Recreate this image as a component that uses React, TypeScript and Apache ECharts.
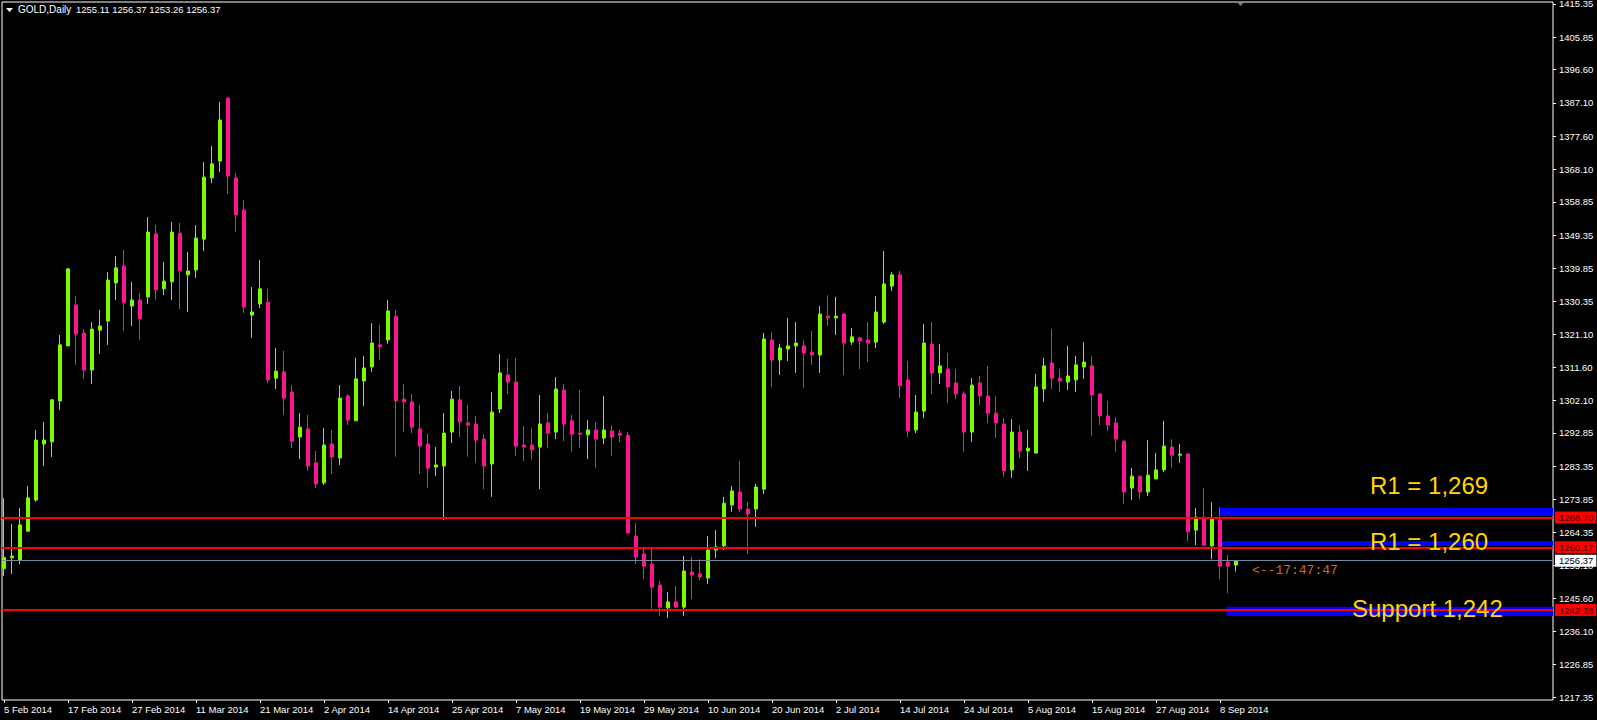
import React, { useEffect, useRef } from "react";
import * as echarts from "echarts";

// Date labels shown on the time axis (every 8th daily bar)
const tickLabels = [
  "5 Feb 2014", "17 Feb 2014", "27 Feb 2014", "11 Mar 2014", "21 Mar 2014",
  "2 Apr 2014", "14 Apr 2014", "25 Apr 2014", "7 May 2014", "19 May 2014",
  "29 May 2014", "10 Jun 2014", "20 Jun 2014", "2 Jul 2014", "14 Jul 2014",
  "24 Jul 2014", "5 Aug 2014", "15 Aug 2014", "27 Aug 2014", "8 Sep 2014",
];
const tickIndex = [0, 8, 16, 24, 32, 40, 48, 56, 64, 72, 80, 88, 96, 104, 112, 120, 128, 136, 144, 152];

// Price scale labels
const yTicks = [
  1415.35, 1405.85, 1396.6, 1387.1, 1377.6, 1368.1, 1358.85, 1349.35, 1339.85, 1330.35, 1321.1,
  1311.6, 1302.1, 1292.85, 1283.35, 1273.85, 1264.35, 1255.1, 1245.6, 1236.1, 1226.85, 1217.35,
];

// Daily OHLC, GOLD, 5 Feb 2014 .. 10 Sep 2014
const opens = [
  1254.1, 1257.2, 1256.5, 1264.8, 1273.7, 1289.7, 1290.3, 1302.0, 1317.7, 1329.4,
  1321.4, 1310.8, 1322.2, 1324.8, 1335.7, 1340.5, 1329.1, 1330.8, 1331.7, 1349.7,
  1334.0, 1336.0, 1349.9, 1338.0, 1339.4, 1348.2, 1365.7, 1370.5, 1388.5, 1365.7,
  1356.5, 1326.5, 1329.7, 1330.2, 1308.5, 1310.3, 1304.5, 1291.7, 1294.0, 1284.3,
  1278.6, 1289.7, 1285.7, 1303.4, 1296.3, 1307.7, 1311.7, 1318.0, 1319.4, 1326.2,
  1302.5, 1301.7, 1294.0, 1289.7, 1283.1, 1283.4, 1293.1, 1302.3, 1295.7, 1295.4,
  1291.1, 1284.0, 1299.7, 1309.4, 1307.4, 1289.4, 1289.4, 1288.8, 1295.7, 1293.1,
  1305.1, 1296.3, 1292.8, 1292.3, 1293.7, 1291.4, 1293.4, 1292.8, 1292.2, 1263.4,
  1258.3, 1255.4, 1249.4, 1242.9, 1244.6, 1243.1, 1253.1, 1252.6, 1251.4, 1259.4,
  1260.6, 1272.3, 1276.0, 1271.1, 1271.1, 1276.8, 1319.4, 1313.7, 1316.8, 1317.7,
  1317.7, 1315.9, 1315.1, 1326.2, 1325.7, 1326.8, 1318.8, 1320.0, 1319.4, 1318.8,
  1324.5, 1334.8, 1338.0, 1308.0, 1293.7, 1299.1, 1318.2, 1310.0, 1311.1, 1307.1,
  1304.0, 1293.1, 1307.1, 1303.4, 1298.5, 1295.4, 1282.3, 1293.1, 1287.7, 1287.1,
  1305.4, 1312.8, 1308.5, 1307.4, 1308.0, 1311.7, 1312.0, 1304.0, 1297.7, 1295.7,
  1290.5, 1277.1, 1280.5, 1276.0, 1279.7, 1282.3, 1288.8, 1286.5, 1286.8, 1265.1,
  1268.8, 1260.6, 1268.0, 1256.0, 1255.11,
];
const highs = [
  1274.2, 1266.8, 1271.4, 1277.7, 1293.7, 1296.0, 1302.5, 1320.8, 1340.0, 1332.0,
  1322.5, 1324.5, 1328.0, 1338.8, 1343.4, 1345.1, 1336.0, 1332.8, 1354.5, 1352.2,
  1341.7, 1353.1, 1352.8, 1344.5, 1352.2, 1370.2, 1374.8, 1387.4, 1388.5, 1367.1,
  1359.4, 1334.5, 1342.2, 1334.0, 1317.1, 1316.3, 1306.5, 1298.5, 1298.0, 1287.7,
  1294.3, 1293.7, 1306.5, 1304.0, 1314.3, 1314.8, 1324.2, 1323.7, 1330.8, 1328.0,
  1306.8, 1304.0, 1300.8, 1292.5, 1288.8, 1298.5, 1304.8, 1306.3, 1300.8, 1297.7,
  1292.5, 1304.5, 1315.4, 1314.0, 1314.3, 1294.8, 1294.3, 1303.7, 1298.5, 1308.8,
  1306.8, 1298.0, 1305.1, 1296.5, 1296.0, 1303.4, 1295.1, 1293.7, 1293.1, 1267.1,
  1260.0, 1260.0, 1250.6, 1247.4, 1249.1, 1257.7, 1257.4, 1256.8, 1263.4, 1265.1,
  1274.6, 1277.7, 1284.8, 1273.1, 1278.3, 1321.4, 1321.7, 1318.3, 1325.7, 1324.5,
  1319.4, 1322.0, 1329.1, 1332.2, 1331.7, 1327.1, 1322.8, 1320.3, 1324.5, 1332.0,
  1344.8, 1338.8, 1339.1, 1313.4, 1303.7, 1324.0, 1324.5, 1318.2, 1315.7, 1311.1,
  1304.8, 1308.5, 1309.1, 1312.0, 1303.4, 1297.1, 1296.8, 1295.1, 1293.7, 1309.7,
  1314.3, 1322.5, 1311.1, 1317.7, 1314.8, 1318.8, 1314.8, 1304.0, 1302.0, 1297.4,
  1290.8, 1282.8, 1280.5, 1290.8, 1287.1, 1296.3, 1291.1, 1289.7, 1287.1, 1271.4,
  1277.1, 1273.1, 1271.7, 1258.0, 1256.37,
];
const lows = [
  1252.0, 1252.6, 1255.4, 1264.6, 1273.2, 1283.4, 1286.0, 1299.4, 1317.7, 1312.3,
  1308.3, 1306.8, 1315.4, 1318.0, 1330.8, 1322.0, 1323.4, 1319.4, 1329.7, 1330.8,
  1332.2, 1330.8, 1328.2, 1327.4, 1337.1, 1344.8, 1364.2, 1367.4, 1361.1, 1350.2,
  1327.1, 1320.0, 1328.5, 1307.1, 1305.4, 1298.0, 1288.5, 1285.4, 1282.0, 1277.1,
  1278.0, 1281.1, 1283.7, 1295.1, 1296.3, 1300.5, 1310.3, 1313.7, 1318.3, 1286.0,
  1293.1, 1292.8, 1281.1, 1277.1, 1280.5, 1268.0, 1290.0, 1291.7, 1286.0, 1284.3,
  1276.8, 1274.6, 1298.5, 1304.0, 1286.3, 1284.8, 1285.1, 1276.8, 1288.5, 1291.1,
  1290.5, 1287.4, 1288.5, 1285.4, 1282.8, 1289.7, 1286.3, 1290.3, 1264.0, 1255.4,
  1251.1, 1242.6, 1240.6, 1240.0, 1242.8, 1240.6, 1245.4, 1250.8, 1249.7, 1257.1,
  1259.4, 1270.3, 1270.3, 1258.3, 1266.0, 1275.4, 1306.0, 1309.4, 1313.4, 1310.0,
  1305.7, 1312.3, 1310.0, 1323.4, 1320.8, 1309.4, 1318.0, 1311.1, 1313.1, 1317.1,
  1324.0, 1333.4, 1302.8, 1291.7, 1292.8, 1297.1, 1304.0, 1306.8, 1301.4, 1302.5,
  1287.4, 1290.3, 1300.8, 1295.7, 1291.4, 1280.3, 1280.0, 1285.7, 1282.0, 1287.1,
  1301.7, 1305.4, 1304.5, 1305.1, 1304.5, 1308.3, 1292.0, 1295.1, 1293.4, 1287.4,
  1272.6, 1273.7, 1274.0, 1274.8, 1279.7, 1281.7, 1282.8, 1284.3, 1262.0, 1260.8,
  1260.6, 1256.8, 1251.1, 1247.1, 1253.26,
];
const closes = [
  1257.3, 1257.7, 1266.6, 1274.3, 1290.8, 1290.8, 1302.3, 1318.0, 1339.7, 1321.1,
  1310.8, 1322.5, 1323.4, 1336.5, 1340.0, 1330.0, 1330.8, 1325.4, 1350.2, 1333.7,
  1336.2, 1350.2, 1339.1, 1339.1, 1348.5, 1365.9, 1369.7, 1382.2, 1366.2, 1355.1,
  1328.8, 1327.4, 1334.0, 1308.0, 1310.5, 1302.8, 1290.5, 1294.5, 1283.4, 1278.3,
  1289.4, 1286.0, 1302.8, 1296.5, 1308.3, 1311.4, 1318.5, 1317.4, 1327.7, 1302.0,
  1301.7, 1294.5, 1289.1, 1282.8, 1283.7, 1292.8, 1302.5, 1296.0, 1295.1, 1290.8,
  1283.4, 1298.8, 1310.0, 1307.4, 1289.1, 1288.8, 1288.0, 1295.4, 1292.8, 1305.4,
  1295.4, 1292.5, 1292.5, 1293.7, 1291.1, 1293.7, 1291.7, 1292.2, 1264.3, 1257.4,
  1254.8, 1248.8, 1243.1, 1244.6, 1243.1, 1253.4, 1252.3, 1251.7, 1259.4, 1260.3,
  1272.8, 1276.3, 1271.1, 1269.7, 1277.4, 1319.7, 1313.7, 1317.1, 1317.7, 1318.5,
  1315.7, 1315.1, 1326.8, 1325.7, 1326.2, 1318.5, 1320.3, 1319.1, 1318.5, 1327.4,
  1335.4, 1338.0, 1306.3, 1293.4, 1298.8, 1318.5, 1310.0, 1312.0, 1306.0, 1304.0,
  1293.1, 1306.5, 1303.4, 1298.5, 1295.7, 1282.0, 1293.1, 1287.7, 1288.5, 1306.0,
  1312.0, 1308.5, 1307.7, 1309.1, 1312.3, 1313.1, 1303.7, 1297.7, 1295.1, 1291.1,
  1276.0, 1280.5, 1276.0, 1280.8, 1282.3, 1289.1, 1286.5, 1286.8, 1264.6, 1268.8,
  1260.8, 1268.3, 1254.8, 1254.8, 1256.37,
];

// Horizontal levels (red) and the current bid line
const levelLines = [1268.7, 1260.17, 1242.28];
const bidLine = 1256.37;

// Blue rectangles: [start bar, upper price, lower price]
const zones = [
  [152, 1271.49, 1269.13],
  [152.2, 1261.99, 1260.56],
  [152.8, 1243.22, 1240.57],
];
const annotations = ["R1 = 1,269", "R1 = 1,260", "Support 1,242"];
const headerName = "GOLD,Daily";
const timerText = "<--17:47:47";

const X_MIN = -0.25;
const X_MAX = 193.625;
const Y_MIN = 1216.58;
const Y_MAX = 1415.92;

const BULL = "#7CFC00";
const BEAR = "#FF1493";
const FONT = "Tahoma, 'Liberation Sans', Arial, sans-serif";

export default function App() {
  const ref = useRef<HTMLDivElement>(null);

  useEffect(() => {
    if (!ref.current) return;
    const chart = echarts.init(ref.current, undefined, { renderer: "svg" });
    const last = opens.length - 1;
    const candles = opens.map((o, i) => [i, o, closes[i], lows[i], highs[i]]);
    const headerValues = [opens[last], highs[last], lows[last], closes[last]]
      .map((v) => v.toFixed(2))
      .join(" ");

    const lineItem = (v: number, color: string, width: number, bg: string, fg: string) => ({
      yAxis: v,
      lineStyle: { color, width, type: "solid" },
      label: {
        show: true,
        position: "end",
        distance: 2,
        formatter: v.toFixed(2),
        backgroundColor: bg,
        color: fg,
        fontFamily: FONT,
        fontSize: 9.5,
        lineHeight: 10,
        padding: [1, 3, 1, 4],
      },
    });

    chart.setOption({
      animation: false,
      backgroundColor: "#000000",
      grid: {
        left: 2,
        top: 2,
        width: 1551,
        height: 698,
        show: true,
        borderColor: "#ffffff",
        borderWidth: 1,
        backgroundColor: "transparent",
        containLabel: false,
        outerBoundsMode: "none",
      },
      xAxis: {
        type: "value",
        min: X_MIN,
        max: X_MAX,
        position: "bottom",
        axisLine: { show: false, onZero: false },
        splitLine: { show: false },
        axisTick: {
          show: true,
          customValues: tickIndex,
          length: 3,
          lineStyle: { color: "#ffffff", width: 1 },
        },
        axisLabel: {
          show: true,
          customValues: tickIndex,
          formatter: (v: number) => tickLabels[tickIndex.indexOf(Math.round(v))] ?? "",
          align: "left",
          margin: 4,
          color: "#ffffff",
          fontFamily: FONT,
          fontSize: 9.5,
          hideOverlap: false,
        },
      },
      yAxis: {
        type: "value",
        position: "right",
        min: Y_MIN,
        max: Y_MAX,
        scale: true,
        axisLine: { show: false, onZero: false },
        splitLine: { show: false },
        axisTick: {
          show: true,
          customValues: yTicks,
          length: 3,
          lineStyle: { color: "#ffffff", width: 1 },
        },
        axisLabel: {
          show: true,
          customValues: yTicks,
          formatter: (v: number) => v.toFixed(2),
          margin: 6,
          color: "#ffffff",
          fontFamily: FONT,
          fontSize: 9.5,
          hideOverlap: false,
        },
      },
      series: [
        {
          type: "candlestick",
          data: candles,
          barWidth: 4,
          itemStyle: {
            color: BULL,
            color0: BEAR,
            borderColor: BULL,
            borderColor0: BEAR,
            borderWidth: 1,
          },
          markArea: {
            silent: true,
            itemStyle: { color: "#0000FF", opacity: 1, borderWidth: 0 },
            data: zones.map((z) => [
              { xAxis: z[0], yAxis: z[1] },
              { xAxis: X_MAX, yAxis: z[2] },
            ]),
          },
          markLine: {
            silent: true,
            symbol: ["none", "none"],
            precision: 2,
            data: [
              ...levelLines.map((v) => lineItem(v, "#FF0000", 2, "#FF0000", "#3a0000")),
              lineItem(bidLine, "#778899", 1, "#FFFFFF", "#000000"),
            ],
          },
        },
      ],
      graphic: [
        {
          type: "polygon",
          shape: { points: [[6, 8], [13, 8], [9.5, 12]] },
          style: { fill: "#ffffff" },
        },
        {
          type: "text",
          x: 18,
          y: 9.5,
          style: {
            text: headerName,
            fill: "#ffffff",
            fontFamily: FONT,
            fontSize: 10,
            verticalAlign: "middle",
            align: "left",
          },
        },
        {
          type: "text",
          x: 76,
          y: 9.5,
          style: {
            text: headerValues,
            fill: "#ffffff",
            fontFamily: FONT,
            fontSize: 9.5,
            verticalAlign: "middle",
            align: "left",
          },
        },
        {
          type: "polygon",
          shape: { points: [[1236, 1], [1245, 1], [1240.5, 6]] },
          style: { fill: "#808080" },
        },
        {
          type: "text",
          x: 1370,
          y: 485,
          z: 20,
          style: {
            text: annotations[0],
            fill: "#FFD700",
            fontFamily: "'Liberation Sans', Arial, sans-serif",
            fontSize: 24,
            verticalAlign: "middle",
            align: "left",
          },
        },
        {
          type: "text",
          x: 1370,
          y: 541,
          z: 20,
          style: {
            text: annotations[1],
            fill: "#FFD700",
            fontFamily: "'Liberation Sans', Arial, sans-serif",
            fontSize: 24,
            verticalAlign: "middle",
            align: "left",
          },
        },
        {
          type: "text",
          x: 1352,
          y: 608.5,
          z: 20,
          style: {
            text: annotations[2],
            fill: "#FFD700",
            fontFamily: "'Liberation Sans', Arial, sans-serif",
            fontSize: 24,
            verticalAlign: "middle",
            align: "left",
          },
        },
        {
          type: "text",
          x: 1252,
          y: 570,
          z: 20,
          style: {
            text: timerText,
            fill: "#D2691E",
            fontFamily: "'Liberation Mono', 'DejaVu Sans Mono', monospace",
            fontSize: 13,
            verticalAlign: "middle",
            align: "left",
          },
        },
      ],
    });

    return () => chart.dispose();
  }, []);

  return (
    <div
      ref={ref}
      style={{ position: "absolute", left: 0, top: 0, width: 1597, height: 720, background: "#000" }}
    />
  );
}
